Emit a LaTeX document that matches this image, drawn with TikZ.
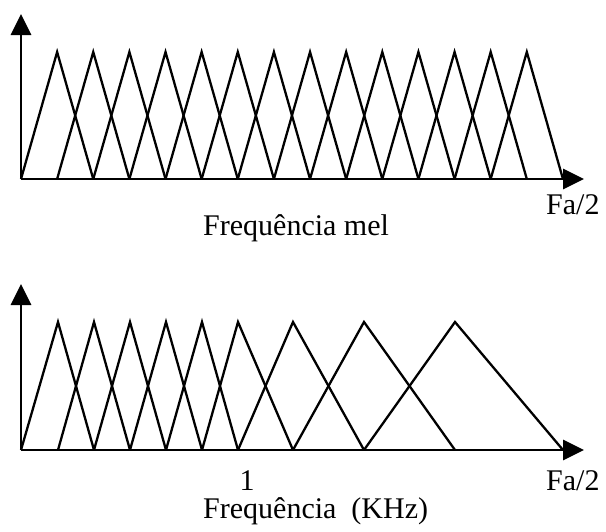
\documentclass[tikz,border=0pt]{standalone}
\usepackage{fontspec}
\setmainfont{Liberation Serif}
\usetikzlibrary{arrows.meta}
\begin{document}
\begin{tikzpicture}[x=1pt,y=-1pt,
  axisline/.style={line width=2.8pt,-{Triangle[length=21pt,width=20pt]}},
  tri/.style={line width=2.3pt,line join=miter},
  lbl/.style={font=\fontsize{30}{35}\selectfont,inner sep=0pt,anchor=base west}]
\useasboundingbox (0,0) rectangle (606,531);
% ---------- top panel (mel) ----------
\coordinate (O1) at (21,179);
\draw[axisline] (O1) -- (21,14);
\draw[axisline] (O1) -- (584,179);
\foreach \i in {1,...,14}{
  \pgfmathsetmacro{\a}{21+36.13*(\i-1)}
  \pgfmathsetmacro{\p}{21+36.13*\i}
  \pgfmathsetmacro{\b}{21+36.13*(\i+1)}
  \draw[tri] (\a,179) -- (\p,52) -- (\b,179);
}
\node[lbl] (fa1) at (546,214) {Fa/2};
\node[lbl] (mel) at (203,235) {Frequência mel};
% ---------- bottom panel (Hz) ----------
\coordinate (O2) at (21,450);
\draw[axisline] (O2) -- (21,284);
\draw[axisline] (O2) -- (584,450);
\foreach \a/\p/\b in {21/58/94, 58/94/130, 94/130/166, 130/166/202, 166/202/238,
                      202/238/293, 238/293/364, 293/364/455, 364/455/563}{
  \draw[tri] (\a,450) -- (\p,322) -- (\b,450);
}
\node[lbl,anchor=base] (one) at (247,490) {1};
\node[lbl] (fa2) at (546,490) {Fa/2};
\node[lbl] (khz) at (203,518) {Frequência\ \ (KHz)};
\end{tikzpicture}
\end{document}
